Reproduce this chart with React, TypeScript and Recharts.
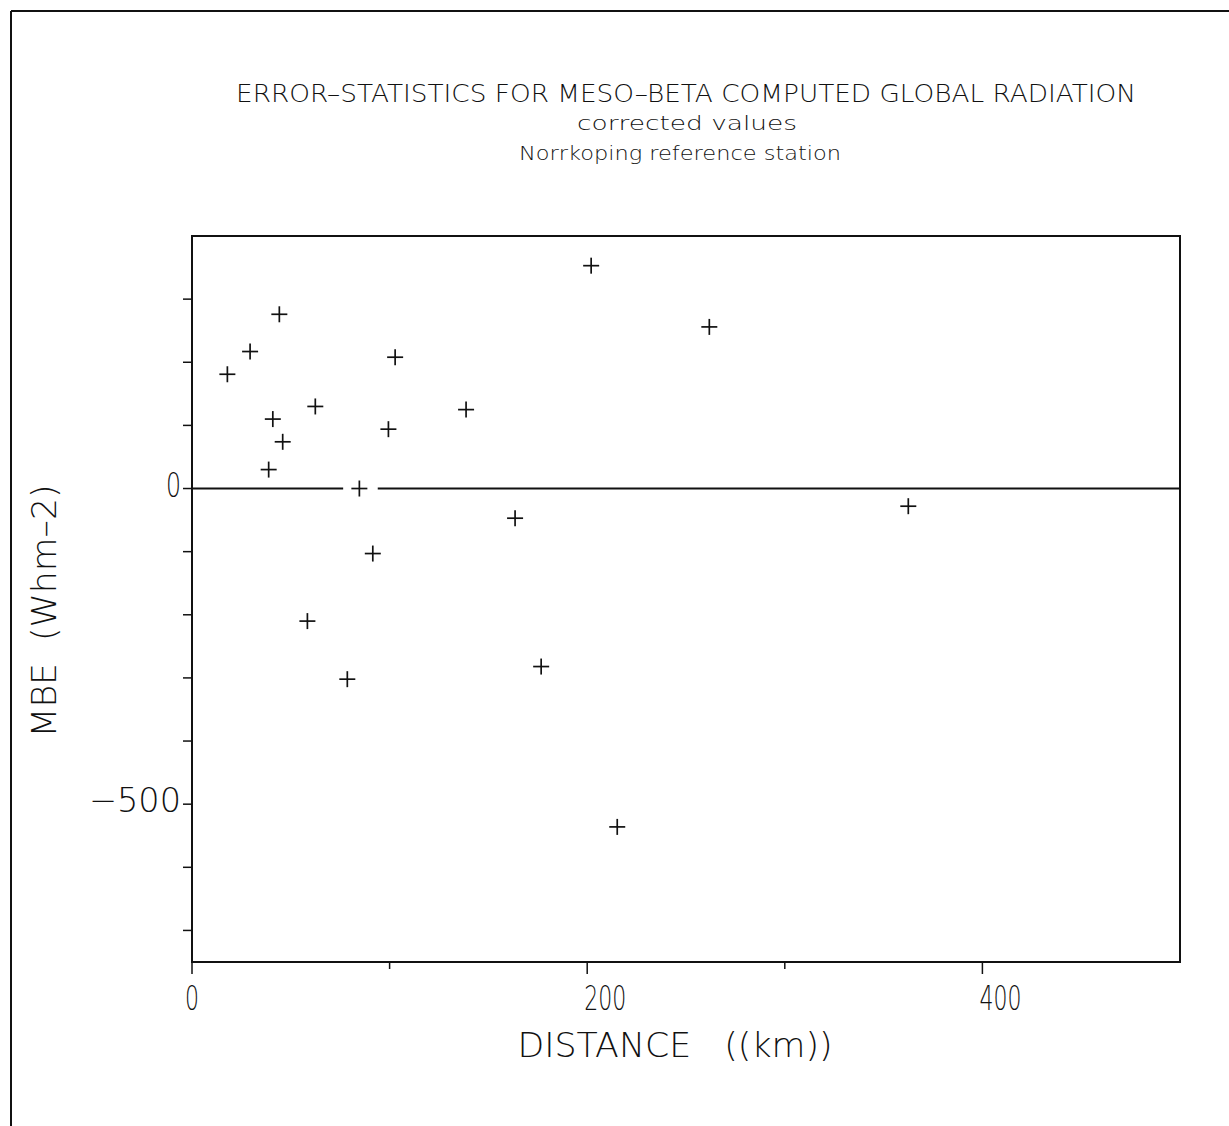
import { ScatterChart, Scatter, XAxis, YAxis, ReferenceLine, ReferenceArea } from "recharts";

// distance from station (km) and mean bias error (W m-2)
const distanceKm = [17.9, 29.4, 44.2, 40.9, 45.9, 38.8, 62.4, 84.7, 91.5, 58.4, 78.6, 102.8, 99.4, 138.7, 163.5, 176.7, 202, 215.2, 261.8, 362.5];
const mbe = [181, 217, 276, 110, 74, 30, 130, 0, -103, -210, -302, 208, 94, 125, -47, -282, 353, -536, 256, -28];

const xTicks = [0, 100, 200, 300, 400];
const xTickLabels: Record<number, string> = { 0: "0", 200: "200", 400: "400" };
const yTicks = [-700, -600, -500, -400, -300, -200, -100, 0, 100, 200, 300];
const yTickLabels: Record<number, string> = { 0: "0", [-500]: "\u2212500" };

const titleLines = [
  "ERROR\u2013STATISTICS FOR MESO\u2013BETA COMPUTED GLOBAL RADIATION",
  "corrected values",
  "Norrkoping reference station",
];
const xTitle = "DISTANCE   ((km))";
const yTitle = "MBE  (Whm\u20132)";

// the zero line is broken around the point sitting on it
const zeroGap = [76.5, 94];

const data = distanceKm.map((x, i) => ({ x, y: mbe[i] }));

const INK = "#111";
const FONT = "'DejaVu Sans', sans-serif";

function Plus(props: any) {
  const { cx, cy } = props;
  return (
    <g stroke={INK} strokeWidth={1.7}>
      <line x1={cx - 8} x2={cx + 8} y1={cy} y2={cy} />
      <line x1={cx} x2={cx} y1={cy - 8} y2={cy + 8} />
    </g>
  );
}

function XTick(props: any) {
  const { x, y, payload } = props;
  const v = payload.value;
  const lab = xTickLabels[v];
  return (
    <g>
      <line x1={x} x2={x} y1={y} y2={y + (v % 200 === 0 ? 12 : 7)} stroke={INK} strokeWidth={1.5} />
      {lab && (
        <text
          x={x + (lab.length - 1) * 9}
          y={y + 48}
          textAnchor="middle"
          fontFamily={FONT}
          fontWeight={200}
          fontSize={34}
          fill={INK}
          textLength={lab.length * 14}
          lengthAdjust="spacingAndGlyphs"
        >
          {lab}
        </text>
      )}
    </g>
  );
}

function YTick(props: any) {
  const { x, y, payload } = props;
  const lab = yTickLabels[payload.value];
  return (
    <g>
      <line x1={x - 9} x2={x} y1={y} y2={y} stroke={INK} strokeWidth={1.5} />
      {lab && (
        <text
          x={x - 11}
          y={y + 8}
          textAnchor="end"
          fontFamily={FONT}
          fontWeight={200}
          fontSize={34}
          fill={INK}
          textLength={lab.length === 1 ? 15 : 92}
          lengthAdjust="spacingAndGlyphs"
        >
          {lab}
        </text>
      )}
    </g>
  );
}

export default function App() {
  return (
    <div style={{ position: "absolute", left: 0, top: 0, width: 1229, height: 1126, background: "#fff" }}>
      <ScatterChart width={1229} height={1126} margin={{ top: 236, right: 49, bottom: 124, left: 132 }}>
        <XAxis
          type="number"
          dataKey="x"
          domain={[0, 500]}
          ticks={xTicks}
          height={40}
          tickSize={0}
          tickMargin={0}
          tickLine={false}
          axisLine={{ stroke: INK, strokeWidth: 2 }}
          tick={<XTick />}
          interval={0}
        />
        <YAxis
          type="number"
          dataKey="y"
          domain={[-750, 400]}
          ticks={yTicks}
          width={60}
          tickSize={0}
          tickMargin={0}
          tickLine={false}
          axisLine={{ stroke: INK, strokeWidth: 2 }}
          tick={<YTick />}
          interval={0}
        />
        <ReferenceArea x1={0} x2={500} y1={-750} y2={400} fill="none" stroke={INK} strokeWidth={2} />
        <ReferenceLine segment={[{ x: 0, y: 0 }, { x: zeroGap[0], y: 0 }]} stroke={INK} strokeWidth={2} />
        <ReferenceLine segment={[{ x: zeroGap[1], y: 0 }, { x: 500, y: 0 }]} stroke={INK} strokeWidth={2} />
        <Scatter data={data} shape={<Plus />} isAnimationActive={false} />
      </ScatterChart>
      <svg width={1229} height={1126} style={{ position: "absolute", left: 0, top: 0, pointerEvents: "none" }}>
        <line x1={11} x2={1229} y1={11} y2={11} stroke={INK} strokeWidth={2} />
        <line x1={11} x2={11} y1={11} y2={1126} stroke={INK} strokeWidth={2} />
        <g fontFamily={FONT} fontWeight={200} fill={INK} textAnchor="middle">
          <text x={686} y={102} fontSize={24} textLength={900} lengthAdjust="spacingAndGlyphs">
            {titleLines[0]}
          </text>
          <text x={687} y={130} fontSize={20} textLength={220} lengthAdjust="spacingAndGlyphs">
            {titleLines[1]}
          </text>
          <text x={680} y={160} fontSize={20} textLength={322} lengthAdjust="spacingAndGlyphs">
            {titleLines[2]}
          </text>
          <text x={675} y={1057} fontSize={34} textLength={315} lengthAdjust="spacingAndGlyphs" xmlSpace="preserve">
            {xTitle}
          </text>
          <text
            x={0}
            y={0}
            fontSize={34}
            textLength={253}
            lengthAdjust="spacingAndGlyphs"
            xmlSpace="preserve"
            transform="translate(56 611) rotate(-90)"
          >
            {yTitle}
          </text>
        </g>
      </svg>
    </div>
  );
}
